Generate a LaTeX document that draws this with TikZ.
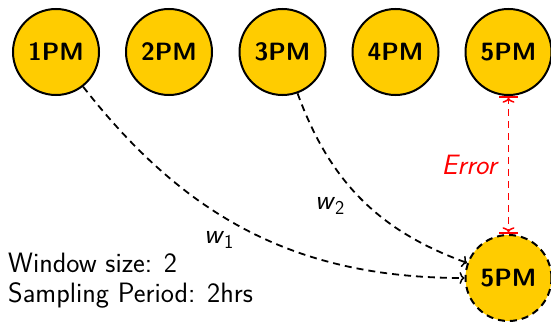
\documentclass[tikz,border=0pt]{standalone}
\usetikzlibrary{arrows.meta}
\definecolor{slotfill}{RGB}{255,204,0}
\tikzset{
  slot/.style={circle, draw=black, line width=2pt, fill=slotfill, minimum size=86pt, inner sep=0pt,
    font=\sffamily\bfseries\fontsize{25}{30}\selectfont},
  conn/.style={line width=1.8pt, dash pattern=on 7pt off 5pt, -{To[length=5pt,width=12pt,line width=1.5pt]}},
  errline/.style={red, line width=1.8pt, dash pattern=on 7pt off 5pt,
    {Bar[width=19pt,line width=1.8pt]To[length=5pt,width=12pt,line width=1.5pt]}-{To[length=5pt,width=12pt,line width=1.5pt]Bar[width=19pt,line width=1.8pt]}},
  txt/.style={font=\sffamily\fontsize{28}{32}\selectfont, inner sep=0pt}
}
\begin{document}
\begin{tikzpicture}[x=1pt,y=1pt]
\useasboundingbox (0,0) rectangle (551,322);
\node[slot] (c1) at (56,270) {1PM};
\node[slot] (c2) at (169,270) {2PM};
\node[slot] (c3) at (282.5,270) {3PM};
\node[slot] (c4) at (395.5,270) {4PM};
\node[slot] (c5) at (508.5,270) {5PM};
\node[slot, dash pattern=on 7pt off 5pt] (b5) at (508.5,44) {5PM};
\draw[conn] (c1) to[out=-52,in=180] (b5);
\draw[conn] (c3) to[out=-70,in=160] (b5);
\draw[errline] (c5.south) -- node[left, txt, inner xsep=11pt, inner ysep=2pt, text=red] (err) {\itshape Error} (b5.north);
\node[txt] (w1) at (219,82) {\textsl{w}\textsubscript{1}};
\node[txt] (w2) at (330,116) {\textsl{w}\textsubscript{2}};
\node[txt, anchor=base west] (ws) at (8,50) {Window size: 2};
\node[txt, anchor=base west] (sp) at (8,20) {Sampling Period: 2hrs};
\end{tikzpicture}
\end{document}
